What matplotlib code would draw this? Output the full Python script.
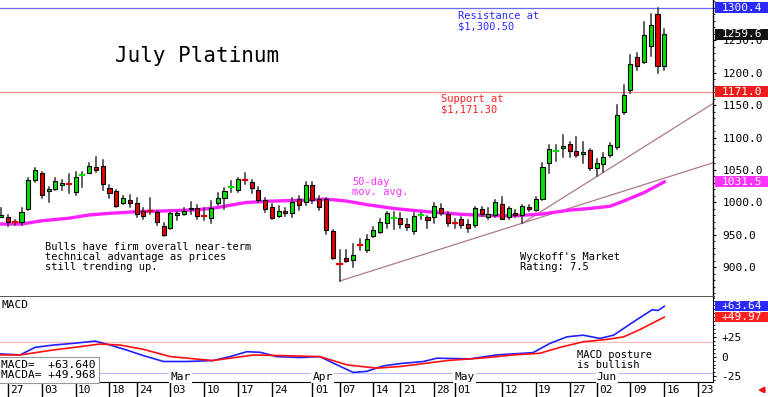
import matplotlib.pyplot as plt
import matplotlib.transforms as mtransforms
from matplotlib.patches import Rectangle
import numpy as np

plt.rcParams['font.family'] = ['DejaVu Sans Mono']

# trading day index, 0 = Jan 27
days = np.arange(-1, 98)
opens = [978, 978, 970.5, 969, 990, 1035, 1046, 1018, 1021, 1027,
         1030, 1016, 1041.5, 1046, 1054.5, 1056, 1022, 1017, 998.5, 1004,
         998.5, 986.5, 987.5, 985.5, 964, 960, 980, 982.5, 989, 991.5,
         980, 975.5, 998.5, 1007, 1022.5, 1019, 1036, 1031, 1019, 1003.5,
         993, 979.5, 986.5, 983, 1005, 1000, 1026.5, 1005, 1005, 955.5,
         906.5, 913.5, 911, 934.5, 926.5, 948, 954.5, 967.5, 975, 976,
         966, 956, 979, 977, 977, 992, 982, 969, 974, 966.5,
         965, 989, 978, 980.5, 997.5, 977, 984, 980.5, 992.3, 988,
         1004.5, 1060, 1077.5, 1083.5, 1090, 1079, 1074.5, 1080.5, 1052.5, 1059,
         1073, 1085, 1140, 1173.5, 1224, 1217, 1241, 1290.5, 1210.5]
highs = [992, 980, 973, 992, 1037, 1052.5, 1047, 1024, 1037, 1034,
         1043, 1047, 1047, 1060, 1070, 1065, 1027, 1019, 1010, 1012,
         1006, 991.5, 1006, 987, 967.5, 984, 985.5, 991, 1000, 996,
         991.5, 1002, 1014, 1022.5, 1033, 1038, 1046, 1034, 1024, 1006,
         997, 995, 992, 1006, 1010, 1032, 1031, 1010, 1006, 957,
         926, 926.5, 935, 943.5, 949.5, 962, 974, 985.5, 985.5, 984,
         974, 983, 983, 979, 999.5, 997.5, 985.5, 974, 978, 972.5,
         993, 993, 990.5, 1003.5, 1007.5, 992.5, 988, 996, 996, 1007.5,
         1060, 1088.5, 1088.5, 1104, 1093.5, 1101, 1093.5, 1082, 1067, 1075.5,
         1091, 1150, 1181, 1227, 1230, 1279, 1290.5, 1300.4, 1267]
lows = [977, 963, 965, 965, 988, 1032, 1006, 1000, 1019, 1019,
        1015, 1011, 1024, 1045, 1047, 1019, 1007, 993, 997, 993,
        978, 974, 981.5, 965, 948.5, 959, 973, 980.5, 982, 975,
        972.5, 967.5, 996, 990, 1016.5, 1016.5, 1029, 1014, 1000, 985.5,
        975, 977, 979.5, 978, 988, 996, 998.5, 988, 950.5, 912.5,
        878.5, 907.5, 900.5, 926.5, 924, 946, 952, 960, 958.5, 961,
        957, 951, 974, 960, 968.5, 980.5, 963.5, 960, 961, 954.5,
        962.5, 979, 974, 977, 974, 975, 978, 967.5, 987, 987,
        1003.5, 1045.5, 1064, 1070.5, 1069.5, 1069.5, 1060, 1050, 1041, 1047,
        1070.5, 1083, 1137, 1169, 1204, 1214.5, 1226, 1199, 1204]
closes = [981, 969, 969.5, 985.5, 1034, 1050, 1012, 1021, 1033, 1030,
          1029, 1039.5, 1042.5, 1056, 1050.5, 1028, 1015, 995, 1006, 999,
          981.5, 979.5, 986.5, 970, 949.5, 983, 983, 986.5, 992, 979.5,
          979, 990.5, 1007, 1017.5, 1023.5, 1036, 1035, 1021.5, 1003.5, 989,
          976, 986.5, 983.5, 1000, 996, 1026.5, 1003.5, 993, 957, 913.5,
          905.5, 909.5, 918.5, 933.5, 943, 957.5, 970, 983, 975.8, 966.5,
          961.5, 979, 979.8, 972.5, 994, 983, 968.5, 968, 965, 960,
          990.5, 982, 982, 1001, 974.5, 990.5, 980.5, 994.3, 989, 1004.5,
          1054, 1083, 1078.5, 1087, 1079.5, 1073, 1078, 1052.5, 1061, 1069.5,
          1088.5, 1134.5, 1165.5, 1213, 1210.5, 1258, 1273.5, 1210.5, 1259.6]

# 50-day moving average
ma_days = [-1.2, 2, 5, 9, 12, 15, 19, 24, 28, 31, 35, 38, 44, 47, 50, 53,
           57, 62, 67, 71, 75, 79, 83, 86, 89, 91, 94, 97]
ma_vals = [966.5, 966.5, 971.5, 975.5, 980.5, 983, 985.5, 987, 988.5, 992,
           999.5, 1001.5, 1003.5, 1005, 1002, 996.5, 990.5, 985.5, 981.5,
           979.5, 979.3, 982, 988, 990.5, 994, 1002, 1015, 1031.5]

# MACD lines
macd_days = [-1.2, 1.8, 4, 6.7, 9.6, 12.9, 15.1, 17.5, 20, 23, 26.4, 30.3,
             32.8, 35.3, 37.3, 39.7, 43.2, 46.1, 48.1, 51, 53, 55.5, 58,
             61.4, 63.4, 68.3, 72.2, 77.6, 80.1, 82.6, 85, 87.5, 89.5, 92.4,
             95.2, 96.1, 97]
macd_vals = [3.4, 2.1, 11.7, 14.6, 16.7, 19.6, 14.6, 8.4, 1.3, -6.2, -6.2, -5,
             0, 6.2, 5.4, 0, -1.2, 0, -8.3, -20, -18.7, -11.7, -8.8,
             -6.2, -2, -2.9, 2.1, 5, 16.7, 25, 27.1, 23, 27.1, 43.7,
             59.2, 58.4, 63.64]
sig_days = [-1.2, 1.8, 6.7, 10.6, 13.6, 16.6, 20, 24, 30.3, 36.3, 40.2, 46.1,
            50.1, 54.5, 58, 60, 64.9, 69.8, 74.7, 78.6, 81.6, 85, 88.5, 91,
            93.4, 97]
sig_vals = [2.1, 2.1, 8.4, 12.5, 15.9, 14.6, 9.2, 0, -5, 2.1, 1.3, 0,
            -10.4, -14.6, -12.5, -10.4, -5, -2, 2.1, 4.2, 11.7, 18.7, 21.7, 25,
            34.2, 49.97]
macd_readout = ['+63.640', '+49.968']

# trend lines (start/end points)
trend1_days = [49, 104.2]
trend1_vals = [878.5, 1061]
trend2_days = [76, 104.2]
trend2_vals = [967.5, 1152.5]

resistance = 1300.4
support = 1171.0

tick_days = [0, 5, 10, 15, 19, 24, 29, 34, 39, 45, 49, 54, 58, 63, 66, 73,
             78, 83, 87, 92, 97, 102]
tick_labels = ['27', '03', '10', '18', '24', '03', '10', '17', '24', '01',
               '07', '14', '21', '28', '01', '12', '19', '27', '02', '09',
               '16', '23']
month_days = [24, 45, 66, 87]
month_labels = ['Mar', 'Apr', 'May', 'Jun']

W, H = 768, 397
fig = plt.figure(figsize=(W / 100, H / 100), dpi=100)
right_px = 713
ax = fig.add_axes([0, 1 - 297 / H, right_px / W, 297 / H])
ax2 = fig.add_axes([0, 1 - 381.5 / H, right_px / W, 84.5 / H])

xlim = (-1.18, 104.2)
green, red = '#00e000', '#e00000'

# candles
bw = 0.6
for d, o, hi, lo, c in zip(days, opens, highs, lows, closes):
    ax.plot([d, d], [lo, hi], color='#333333', lw=1.1, zorder=2)
    col = green if c >= o else red
    if abs(c - o) <= 1.2:
        ax.plot([d - bw / 2, d + bw / 2], [c, c], color=col, lw=1.6, zorder=3)
    else:
        ax.add_patch(Rectangle((d - bw / 2, min(o, c)), bw, abs(c - o),
                               facecolor=col, edgecolor='black', lw=0.8, zorder=3))

ax.plot(ma_days, ma_vals, color='#ff22ff', lw=2.4, zorder=1.5)
ax.plot(trend1_days, trend1_vals, color='#b07890', lw=0.9, zorder=1)
ax.plot(trend2_days, trend2_vals, color='#b07890', lw=0.9, zorder=1)
ax.axhline(resistance, color='#6a6aff', lw=0.9, zorder=1)
ax.axhline(support, color='#ff8a8a', lw=0.9, zorder=1)

ax.set_xlim(*xlim)
ax.set_ylim(853.9, 1312.2)
ax.set_xticks([])
ax.yaxis.tick_right()
ax.set_yticks(np.arange(900, 1251, 50))
ax.set_yticklabels([f'{v:.1f}' for v in np.arange(900, 1251, 50)])
ax.set_yticks(np.arange(860, 1311, 10), minor=True)
ax.tick_params(axis='y', which='major', length=2, pad=5, labelsize=8)
ax.tick_params(axis='y', which='minor', length=1.2)
for s in ['top', 'left']:
    ax.spines[s].set_visible(False)
ax.spines['bottom'].set_color('#444444')
ax.spines['bottom'].set_linewidth(2)
ax.spines['right'].set_linewidth(1)


# value boxes on the right axis
def value_box(axis, val, fc, h, txt):
    tr = mtransforms.blended_transform_factory(axis.transAxes, axis.transData)
    axis.add_patch(Rectangle((715 / right_px, val - h / 2), (W - 715) / right_px, h,
                             transform=tr, facecolor=fc, edgecolor='none',
                             clip_on=False, zorder=10))
    axis.text(722 / right_px, val, txt, transform=tr, color='white', fontsize=8,
              va='center', ha='left', zorder=11, clip_on=False)


value_box(ax, resistance, '#2a2aff', 17, f'{resistance:.1f}')
value_box(ax, closes[-1], '#111111', 17, f'{closes[-1]:.1f}')
value_box(ax, support, '#ee1c1c', 17, f'{support:.1f}')
value_box(ax, ma_vals[-1], '#ff33ff', 17, f'{ma_vals[-1]:.1f}')

ax.text(115 / right_px, 0.81, 'July Platinum', transform=ax.transAxes,
        fontsize=15, va='center', ha='left')
ax.text(458 / right_px, 0.962, 'Resistance at\n$1,300.50', transform=ax.transAxes,
        fontsize=7.5, color='#2a2aff', va='top', linespacing=1.0)
ax.text(441 / right_px, 0.682, 'Support at\n$1,171.30', transform=ax.transAxes,
        fontsize=7.5, color='#ff2020', va='top', linespacing=1.0)
ax.text(352 / right_px, 0.404, '50-day\nmov. avg.', transform=ax.transAxes,
        fontsize=7.5, color='#ff33ff', va='top', linespacing=1.0)
ax.text(45 / right_px, 0.185,
        'Bulls have firm overall near-term\ntechnical advantage as prices\nstill trending up.',
        transform=ax.transAxes, fontsize=7.5, va='top', linespacing=1.0)
ax.text(520 / right_px, 0.152, "Wyckoff's Market\nRating: 7.5", transform=ax.transAxes,
        fontsize=7.5, va='top', linespacing=1.0)

# MACD panel
ax2.plot(macd_days, macd_vals, color='#2020ff', lw=1.2)
ax2.plot(sig_days, sig_vals, color='#ff1010', lw=1.2)
ax2.axhline(19, color='#ffb8b8', lw=0.8, zorder=0)
ax2.axhline(-21, color='#b8b8ff', lw=0.8, zorder=0)
ax2.set_xlim(*xlim)
ax2.set_ylim(-31.5, 75.4)
ax2.yaxis.tick_right()
ax2.set_yticks([-25, 0, 25])
ax2.set_yticklabels(['-25', '0', '+25'])
ax2.set_yticks(np.arange(-30, 71, 5), minor=True)
ax2.tick_params(axis='y', which='major', length=2, pad=4, labelsize=8)
ax2.tick_params(axis='y', which='minor', length=1.2)
ax2.spines['top'].set_visible(False)
ax2.spines['left'].set_visible(False)

value_box(ax2, macd_vals[-1], '#2a2aff', 12.5, f'{macd_vals[-1]:+.2f}')
value_box(ax2, sig_vals[-1], '#ff2020', 12.5, f'{sig_vals[-1]:+.2f}')

ax2.set_xticks(tick_days)
ax2.set_xticklabels([])
ax2.tick_params(axis='x', length=11.5, width=1, direction='out')
xtr = mtransforms.blended_transform_factory(ax2.transData, ax2.transAxes)
for d, lab in zip(tick_days, tick_labels):
    ax2.text(d + 0.35, -0.095, lab, transform=xtr, fontsize=8, va='center',
             ha='left', clip_on=False)
for d, lab in zip(month_days, month_labels):
    ax2.text(d, -25.5, lab, fontsize=8, va='center', ha='left',
             bbox=dict(boxstyle='square,pad=0.1', fc='white', ec='none'))

ax2.text(2 / right_px, 0.96, 'MACD', transform=ax2.transAxes, fontsize=8, va='top')
ax2.text(577 / right_px, 0.375, 'MACD posture\nis bullish', transform=ax2.transAxes,
         fontsize=7.5, va='top', linespacing=1.0)
ax2.text(0.002, 0.02, f'MACD=  {macd_readout[0]}\nMACDA= {macd_readout[1]}',
         transform=ax2.transAxes, fontsize=8, va='bottom', ha='left', linespacing=1.0,
         bbox=dict(boxstyle='square,pad=0.25', fc='white', ec='#999999', lw=0.8))

ax2.annotate('', xy=(755, 7), xytext=(766, 7), xycoords='figure pixels',
             textcoords='figure pixels',
             arrowprops=dict(arrowstyle='-|>', color='#ee1111', lw=1.5, mutation_scale=8))

fig.savefig('out.png', dpi=100)
